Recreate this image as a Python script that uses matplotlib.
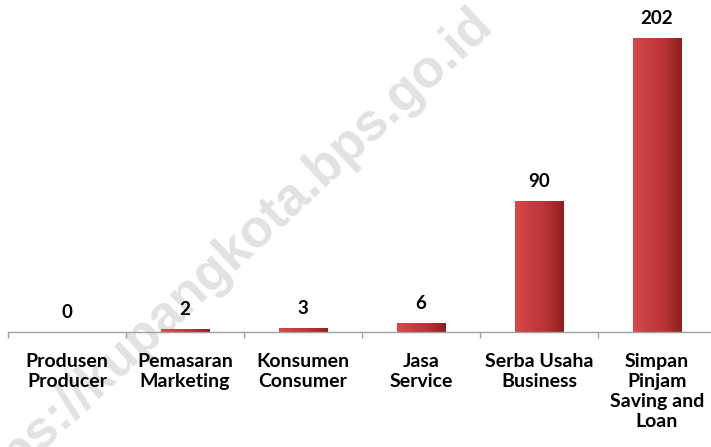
import numpy as np
import matplotlib.pyplot as plt
from matplotlib.colors import LinearSegmentedColormap

kategori = ["Produsen\nProducer", "Pemasaran\nMarketing", "Konsumen\nConsumer",
            "Jasa\nService", "Serba Usaha\nBusiness", "Simpan\nPinjam\nSaving and\nLoan"]
jumlah = [0, 2, 3, 6, 90, 202]

plt.rcParams['font.family'] = ['Lato', 'DejaVu Sans']

fig = plt.figure(figsize=(7.11, 4.47), dpi=100)
# sumbu: garis dasar di y=332 px, kategori selebar ~118 px mulai x=8
ax = fig.add_axes([8 / 711, 115 / 447, 708 / 711, 320 / 447])
ax.set_facecolor('none')

x = np.arange(len(jumlah))
bars = ax.bar(x, jumlah, width=0.41, color='#C0393B', edgecolor='#7A1A1C',
              linewidth=0.6, zorder=3)

# gradasi warna pada batang
grad = np.linspace(0, 1, 64).reshape(1, -1)
cmap = LinearSegmentedColormap.from_list('merah', ['#D9494B', '#C63C3E', '#B83234', '#8C1E20'])
for b in bars:
    if b.get_height() <= 0:
        continue
    x0, w, h = b.get_x(), b.get_width(), b.get_height()
    im = ax.imshow(grad, cmap=cmap, aspect='auto', extent=[x0, x0 + w, 0, h],
                   zorder=3.5, interpolation='bicubic')
    im.set_clip_path(b)

for xi, v in zip(x, jumlah):
    ax.annotate(str(v), (xi, v), xytext=(0, 14), textcoords='offset points',
                ha='center', va='center', fontsize=13.5, fontweight='bold', zorder=5)

ax.set_xlim(-0.5, 5.5)
ax.set_ylim(0, 220)
ax.set_xticks(x)
ax.set_xticklabels(kategori, fontsize=14, fontweight='bold', linespacing=1.22, va='top')
ax.tick_params(axis='x', which='major', length=0, pad=15)
ax.set_xticks(np.arange(-0.5, 6, 1), minor=True)
ax.tick_params(axis='x', which='minor', length=4, color='#A0A0A0', width=1)
ax.set_yticks([])
for s in ['top', 'right', 'left']:
    ax.spines[s].set_visible(False)
ax.spines['bottom'].set_color('#A0A0A0')
ax.spines['bottom'].set_linewidth(1)
ax.spines['bottom'].set_zorder(4)

# tanda air di belakang grafik
fig.text(222 / 711, 1 - 262 / 447, "https://kupangkota.bps.go.id", rotation=43,
         ha='center', va='center', fontsize=38, fontweight='bold', color='#E2E2E2',
         family='Liberation Sans', zorder=-1)

fig.savefig('out.png', dpi=100)
